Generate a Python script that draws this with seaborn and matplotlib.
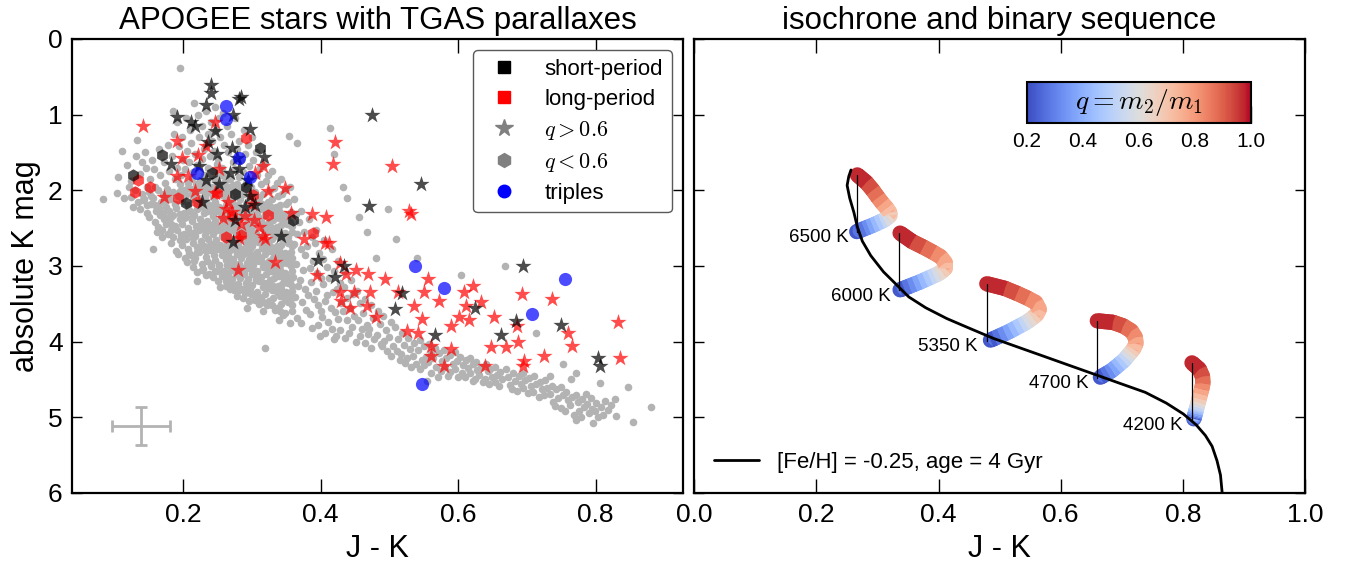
import numpy as np
import matplotlib
matplotlib.use("Agg")
import matplotlib.pyplot as plt
import seaborn as sns
from matplotlib.collections import LineCollection
from matplotlib.lines import Line2D

# ---------------- left panel data (J-K, M_K) ----------------
GREY = [
(0.084,2.11),(0.106,1.83),(0.104,2.03),(0.112,1.48),(0.114,2.10),(0.118,1.67),(0.121,1.95),(0.125,2.09),(0.127,2.22),(0.124,1.88),(0.131,1.55),(0.133,1.33),(0.130,2.00),(0.134,2.15),
(0.138,1.78),(0.140,2.05),(0.137,2.25),(0.141,1.62),(0.145,1.50),(0.147,1.95),(0.144,2.12),(0.148,2.30),(0.146,1.70),
(0.152,1.85),(0.150,2.02),(0.154,2.18),(0.151,2.35),(0.155,1.60),(0.157,2.77),
(0.158,1.72),(0.160,1.95),(0.157,2.10),(0.161,2.28),(0.159,2.42),(0.162,2.55),
(0.165,1.45),(0.167,1.80),(0.164,2.00),(0.168,2.15),(0.166,2.32),(0.163,2.48),(0.169,2.62),
(0.172,1.62),(0.174,1.90),(0.171,2.05),(0.175,2.22),(0.173,2.38),(0.170,2.52),(0.176,2.45),
(0.178,1.40),(0.180,1.75),(0.177,1.98),(0.181,2.12),(0.179,2.28),(0.182,2.44),(0.178,2.58),(0.183,2.70),
(0.185,0.95),(0.187,1.25),(0.184,1.55),(0.188,1.85),(0.186,2.02),(0.189,2.18),(0.185,2.32),(0.188,2.47),(0.186,2.62),(0.190,2.80),
(0.192,1.10),(0.194,1.42),(0.191,1.70),(0.195,1.92),(0.193,2.08),(0.190,2.24),(0.196,2.38),(0.192,2.52),(0.195,2.66),(0.193,2.84),
(0.196,0.39),
(0.198,1.30),(0.200,1.60),(0.197,1.80),(0.201,2.00),(0.199,2.14),(0.202,2.30),(0.198,2.44),(0.201,2.58),(0.199,2.72),(0.203,2.90),
(0.204,1.05),(0.206,1.48),(0.203,1.72),(0.207,1.90),(0.205,2.06),(0.208,2.20),(0.204,2.35),(0.207,2.50),(0.205,2.64),(0.208,2.78),(0.206,2.95),
(0.210,1.20),(0.212,1.38),(0.209,1.62),(0.213,1.84),(0.211,1.98),(0.214,2.12),(0.210,2.27),(0.213,2.41),(0.211,2.56),(0.214,2.70),(0.212,2.86),(0.215,3.02),
(0.216,0.85),(0.218,1.52),(0.215,1.76),(0.219,1.92),(0.217,2.04),(0.220,2.18),(0.216,2.32),(0.219,2.47),(0.217,2.61),(0.220,2.75),(0.218,2.90),(0.221,3.08),
(0.222,1.00),(0.224,1.30),(0.221,1.66),(0.225,1.86),(0.223,2.00),(0.226,2.10),(0.222,2.24),(0.225,2.38),(0.223,2.53),(0.226,2.67),(0.224,2.82),(0.227,2.97),(0.220,3.20),
(0.228,1.15),(0.230,1.45),(0.227,1.58),(0.231,1.80),(0.229,1.95),(0.232,2.08),(0.228,2.20),(0.231,2.30),(0.229,2.44),(0.232,2.59),(0.230,2.73),(0.233,2.88),(0.229,3.04),
(0.234,0.95),(0.236,1.25),(0.233,1.40),(0.237,1.70),(0.235,1.88),(0.238,2.02),(0.234,2.14),(0.237,2.27),(0.235,2.40),(0.238,2.52),(0.236,2.65),(0.239,2.79),(0.235,2.93),(0.238,3.10),
(0.240,1.10),(0.242,1.35),(0.239,1.55),(0.243,1.75),(0.241,1.95),(0.244,2.09),(0.240,2.21),(0.243,2.34),(0.241,2.46),(0.244,2.58),(0.242,2.71),(0.245,2.85),(0.241,3.00),(0.244,3.15),
(0.246,0.90),(0.248,1.20),(0.245,1.48),(0.249,1.65),(0.247,1.85),(0.250,2.00),(0.246,2.16),(0.249,2.28),(0.247,2.40),(0.250,2.53),(0.248,2.66),(0.251,2.78),(0.247,2.92),(0.250,3.07),
(0.252,1.05),(0.254,1.30),(0.251,1.58),(0.255,1.80),(0.253,1.93),(0.256,2.06),(0.252,2.22),(0.255,2.35),(0.253,2.47),(0.256,2.60),(0.254,2.72),(0.257,2.86),(0.253,2.99),(0.256,3.13),(0.254,3.28),
(0.258,0.98),(0.260,1.40),(0.257,1.70),(0.261,1.88),(0.259,2.02),(0.262,2.12),(0.258,2.28),(0.261,2.42),(0.259,2.54),(0.262,2.66),(0.260,2.79),(0.263,2.92),(0.259,3.06),(0.262,3.20),
(0.264,1.15),(0.266,1.50),(0.263,1.78),(0.267,1.96),(0.265,2.08),(0.268,2.18),(0.264,2.34),(0.267,2.47),(0.265,2.60),(0.268,2.72),(0.266,2.85),(0.269,2.98),(0.265,3.12),(0.268,3.25),
(0.270,1.25),(0.272,1.62),(0.269,1.85),(0.273,2.00),(0.271,2.14),(0.274,2.25),(0.270,2.40),(0.273,2.53),(0.271,2.66),(0.274,2.78),(0.272,2.91),(0.275,3.04),(0.271,3.17),(0.274,3.32),
(0.276,1.05),(0.278,1.45),(0.275,1.72),(0.279,1.92),(0.277,2.06),(0.280,2.20),(0.276,2.32),(0.279,2.46),(0.277,2.58),(0.280,2.71),(0.278,2.84),(0.281,2.97),(0.277,3.10),(0.280,3.24),(0.278,3.40),
(0.282,1.35),(0.284,1.60),(0.281,1.82),(0.285,1.98),(0.283,2.12),(0.286,2.26),(0.282,2.38),(0.285,2.52),(0.283,2.64),(0.286,2.77),(0.284,2.90),(0.287,3.03),(0.283,3.16),(0.286,3.30),
(0.288,1.20),(0.290,1.52),(0.287,1.76),(0.291,1.90),(0.289,2.05),(0.292,2.18),(0.288,2.32),(0.291,2.45),(0.289,2.58),(0.292,2.70),(0.290,2.83),(0.293,2.96),(0.289,3.09),(0.292,3.22),(0.290,3.36),(0.293,3.55),
(0.294,1.40),(0.296,1.68),(0.293,1.85),(0.297,2.00),(0.295,2.14),(0.298,2.28),(0.294,2.40),(0.297,2.53),(0.295,2.66),(0.298,2.78),(0.296,2.91),(0.299,3.04),(0.295,3.17),(0.298,3.31),(0.296,3.46),
(0.300,1.30),(0.302,1.60),(0.299,1.95),(0.303,2.08),(0.301,2.22),(0.304,2.35),(0.300,2.48),(0.303,2.60),(0.301,2.73),(0.304,2.86),(0.302,2.99),(0.305,3.12),(0.301,3.25),(0.304,3.40),
(0.306,1.50),(0.308,1.80),(0.305,2.02),(0.309,2.16),(0.307,2.30),(0.310,2.43),(0.306,2.56),(0.309,2.68),(0.307,2.81),(0.310,2.94),(0.308,3.07),(0.311,3.20),(0.307,3.34),(0.310,3.50),
(0.312,1.70),(0.314,1.92),(0.311,2.10),(0.315,2.25),(0.313,2.38),(0.316,2.51),(0.312,2.64),(0.315,2.76),(0.313,2.89),(0.316,3.02),(0.314,3.15),(0.317,3.28),(0.313,3.42),(0.316,3.60),
(0.318,1.65),(0.320,1.88),(0.317,2.05),(0.321,2.20),(0.319,2.33),(0.322,2.46),(0.318,2.59),(0.321,2.72),(0.319,2.84),(0.322,2.97),(0.320,3.10),(0.323,3.23),(0.319,3.37),(0.322,3.52),(0.319,4.08),
(0.324,1.80),(0.326,2.00),(0.323,2.15),(0.327,2.29),(0.325,2.42),(0.328,2.55),(0.324,2.68),(0.327,2.80),(0.325,2.93),(0.328,3.06),(0.326,3.19),(0.329,3.32),(0.325,3.46),
(0.330,1.75),(0.332,1.97),(0.329,2.12),(0.333,2.26),(0.331,2.39),(0.334,2.52),(0.330,2.64),(0.333,2.77),(0.331,2.90),(0.334,3.03),(0.332,3.16),(0.335,3.29),(0.331,3.42),(0.334,3.58),
(0.336,1.90),(0.338,2.08),(0.335,2.22),(0.339,2.36),(0.337,2.49),(0.340,2.62),(0.336,2.74),(0.339,2.87),(0.337,3.00),(0.340,3.13),(0.338,3.26),(0.341,3.40),(0.337,3.55),(0.340,3.72),
(0.342,1.85),(0.344,2.05),(0.341,2.20),(0.345,2.33),(0.343,2.46),(0.346,2.59),(0.342,2.72),(0.345,2.85),(0.343,2.98),(0.346,3.11),(0.344,3.24),(0.347,3.37),(0.343,3.50),(0.346,3.65),
(0.348,2.00),(0.350,2.18),(0.347,2.31),(0.351,2.44),(0.349,2.57),(0.352,2.70),(0.348,2.83),(0.351,2.96),(0.349,3.09),(0.352,3.22),(0.350,3.35),(0.353,3.48),(0.349,3.62),
(0.354,1.28),(0.356,1.95),(0.353,2.15),(0.357,2.29),(0.355,2.42),(0.358,2.55),(0.354,2.68),(0.357,2.81),(0.355,2.94),(0.358,3.07),(0.356,3.20),(0.359,3.33),(0.355,3.46),(0.358,3.60),(0.356,3.76),
(0.361,2.12),(0.364,2.31),(0.359,2.47),(0.366,2.58),(0.362,2.71),(0.358,2.90),(0.365,2.97),(0.360,3.14),(0.367,3.26),(0.363,3.41),(0.359,3.52),(0.366,3.69),
(0.366,1.38),(0.372,2.27),(0.369,2.42),(0.376,2.55),(0.371,2.77),(0.378,2.86),(0.374,3.05),(0.370,3.19),(0.377,3.30),(0.373,3.47),(0.379,3.58),(0.372,3.75),
(0.383,2.38),(0.387,2.62),(0.381,2.74),(0.389,2.93),(0.384,3.03),(0.386,3.21),(0.382,3.39),(0.390,3.44),(0.385,3.63),(0.388,3.82),
(0.394,2.52),(0.392,2.69),(0.398,2.83),(0.395,3.09),(0.400,3.16),(0.393,3.33),(0.397,3.51),(0.401,3.60),(0.396,3.78),(0.399,3.93),
(0.405,2.66),(0.403,2.91),(0.409,3.02),(0.404,3.24),(0.410,3.38),(0.406,3.46),(0.402,3.68),(0.411,3.74),(0.407,3.89),
(0.414,1.17),(0.416,2.78),(0.419,3.07),(0.413,3.16),(0.418,3.35),(0.415,3.55),(0.421,3.61),(0.417,3.83),(0.420,3.97),
(0.420,1.52),(0.425,2.93),(0.428,3.22),(0.424,3.30),(0.430,3.49),(0.426,3.70),(0.429,3.84),(0.423,3.92),
(0.432,1.95),(0.436,3.06),(0.434,3.28),(0.439,3.42),(0.433,3.60),(0.438,3.71),(0.435,3.95),(0.441,3.88),
(0.438,2.10),(0.444,3.18),(0.447,3.37),(0.443,3.55),(0.449,3.66),(0.446,3.80),(0.451,4.00),
(0.456,2.35),(0.453,3.33),(0.458,3.49),(0.455,3.72),(0.460,3.83),(0.457,3.93),
(0.464,3.44),(0.462,3.62),(0.467,3.78),(0.465,4.02),(0.469,3.90),
(0.468,2.55),(0.473,3.52),(0.476,3.69),(0.471,3.83),(0.478,3.97),(0.474,4.08),
(0.480,2.90),(0.483,3.59),(0.486,3.77),(0.482,3.91),(0.488,4.03),
(0.491,3.66),(0.495,3.84),(0.493,3.99),(0.497,4.13),(0.490,4.06),
(0.498,2.25),(0.502,3.74),(0.500,3.94),(0.505,4.06),(0.503,4.19),
(0.510,2.65),(0.509,3.81),(0.513,3.97),(0.511,4.12),(0.515,4.24),
(0.518,3.88),(0.521,4.05),(0.517,4.16),(0.523,4.28),
(0.527,3.95),(0.530,4.10),(0.526,4.22),(0.532,4.33),
(0.536,4.02),(0.534,4.19),(0.539,4.29),
(0.540,2.90),(0.544,3.98),(0.542,4.11),(0.547,4.24),(0.545,4.36),
(0.550,4.06),(0.553,4.20),(0.551,4.31),
(0.555,4.52),(0.558,4.03),(0.561,4.14),(0.557,4.27),(0.560,4.41),
(0.566,4.09),(0.564,4.22),(0.568,4.33),(0.571,4.47),
(0.573,4.15),(0.577,4.26),(0.575,4.39),
(0.580,4.11),(0.583,4.21),(0.581,4.34),(0.585,4.45),
(0.589,4.18),(0.592,4.29),(0.588,4.40),
(0.596,4.14),(0.598,4.25),(0.595,4.36),(0.600,4.47),
(0.604,3.12),(0.603,4.20),(0.607,4.31),(0.605,4.42),
(0.611,4.24),(0.614,4.35),(0.610,4.47),
(0.618,4.21),(0.621,4.30),(0.617,4.41),(0.622,4.52),
(0.626,4.27),(0.628,4.38),(0.625,4.49),
(0.633,4.33),(0.631,4.44),(0.636,4.53),
(0.640,4.29),(0.643,4.39),(0.639,4.50),
(0.647,4.36),(0.650,4.47),(0.645,4.56),
(0.654,4.34),(0.657,4.44),(0.653,4.53),
(0.661,4.40),(0.664,4.50),(0.660,4.58),
(0.668,3.00),(0.670,4.36),(0.673,4.47),(0.676,4.57),
(0.680,4.42),(0.683,4.52),(0.679,4.63),
(0.688,4.45),(0.691,4.56),(0.686,4.65),
(0.695,4.41),(0.698,4.51),(0.694,4.61),
(0.703,4.48),(0.706,4.58),(0.701,4.68),
(0.711,4.46),(0.714,4.56),(0.709,4.66),(0.714,3.89),
(0.719,4.53),(0.722,4.63),(0.717,4.73),
(0.727,4.51),(0.730,4.61),(0.725,4.71),
(0.734,4.45),(0.737,4.58),(0.733,4.69),(0.738,4.80),
(0.742,4.63),(0.745,4.74),(0.741,4.85),
(0.749,4.60),(0.752,4.70),(0.753,4.29),(0.750,4.88),
(0.757,4.66),(0.760,4.77),(0.756,4.92),
(0.764,4.50),(0.766,4.73),(0.763,4.84),(0.768,4.97),
(0.772,4.42),(0.771,4.70),(0.774,4.80),(0.772,5.03),(0.776,4.91),
(0.780,4.76),(0.783,4.87),(0.779,4.99),
(0.787,4.82),(0.790,4.94),(0.786,4.69),
(0.793,4.75),(0.796,5.08),(0.795,4.89),
(0.800,4.81),(0.803,5.00),(0.799,4.92),
(0.806,4.55),(0.808,4.86),(0.811,4.97),
(0.813,4.78),(0.818,4.90),
(0.822,4.84),(0.828,4.76),(0.830,4.98),
(0.847,4.60),(0.854,5.06),(0.881,4.86),
]
# extra field stars filling the dense core of the main sequence
GREY_CORE = [
(0.195,2.01),(0.196,2.31),(0.197,2.59),(0.201,2.07),(0.202,2.37),(0.203,2.65),
(0.207,1.97),(0.208,2.27),(0.209,2.57),(0.209,2.83),(0.213,2.05),(0.214,2.34),(0.215,2.63),(0.216,2.93),
(0.219,1.99),(0.220,2.25),(0.219,2.54),(0.221,2.82),(0.225,1.93),(0.226,2.17),(0.225,2.46),(0.227,2.74),(0.228,3.05),
(0.231,2.01),(0.232,2.25),(0.231,2.51),(0.233,2.80),(0.234,3.12),(0.237,1.95),(0.238,2.20),(0.237,2.46),(0.239,2.72),(0.240,2.98),
(0.243,2.02),(0.244,2.27),(0.243,2.52),(0.245,2.78),(0.246,3.07),(0.249,1.93),(0.250,2.22),(0.249,2.47),(0.251,2.72),(0.252,2.99),(0.251,3.20),
(0.255,1.99),(0.256,2.28),(0.255,2.53),(0.257,2.79),(0.258,3.06),(0.261,1.95),(0.262,2.20),(0.261,2.48),(0.263,2.73),(0.264,2.99),(0.263,3.27),
(0.267,2.02),(0.268,2.27),(0.267,2.54),(0.269,2.79),(0.270,3.05),(0.269,3.31),(0.273,1.93),(0.274,2.19),(0.273,2.47),(0.275,2.72),(0.276,2.98),(0.275,3.25),
(0.279,1.99),(0.280,2.26),(0.279,2.52),(0.281,2.78),(0.282,3.04),(0.281,3.32),(0.285,2.05),(0.286,2.32),(0.285,2.58),(0.287,2.84),(0.288,3.10),(0.287,3.42),
(0.291,1.98),(0.292,2.25),(0.291,2.52),(0.293,2.77),(0.294,3.03),(0.293,3.29),(0.297,2.07),(0.298,2.34),(0.297,2.60),(0.299,2.85),(0.300,3.11),(0.299,3.37),
(0.303,2.15),(0.304,2.41),(0.303,2.67),(0.305,2.93),(0.306,3.18),(0.305,3.45),(0.309,2.09),(0.310,2.37),(0.309,2.62),(0.311,2.88),(0.312,3.14),(0.311,3.41),
(0.315,2.18),(0.316,2.44),(0.315,2.70),(0.317,2.96),(0.318,3.22),(0.317,3.48),(0.321,2.27),(0.322,2.53),(0.321,2.78),(0.323,3.04),(0.324,3.29),
(0.327,2.21),(0.328,2.48),(0.327,2.73),(0.329,2.99),(0.330,3.25),(0.329,3.52),(0.333,2.32),(0.334,2.58),(0.333,2.83),(0.335,3.09),(0.336,3.35),
(0.339,2.27),(0.340,2.53),(0.339,2.79),(0.341,3.05),(0.342,3.31),(0.341,3.59),(0.345,2.39),(0.346,2.66),(0.345,2.91),(0.347,3.17),(0.348,3.43),
(0.351,2.37),(0.352,2.62),(0.351,2.88),(0.353,3.15),(0.354,3.41),(0.357,2.47),(0.358,2.74),(0.357,3.00),(0.359,3.27),
(0.180,2.05),(0.182,2.35),(0.183,2.53),(0.176,2.13),(0.177,2.36),(0.171,2.30),(0.165,2.24),(0.160,2.19),(0.154,2.08),(0.148,2.20),(0.142,2.13),
]

# short-period (black), q > 0.6 (stars)
SP_STAR = [
(0.241,0.613),(0.240,0.713),(0.233,0.866),(0.281,0.794),(0.285,0.770),(0.191,1.037),(0.211,1.103),(0.217,1.151),
(0.247,1.222),(0.273,0.999),(0.297,1.189),(0.475,0.999),(0.546,1.921),(0.471,2.206),(0.250,1.522),(0.318,1.564),
(0.182,1.650),(0.224,1.674),(0.271,1.436),(0.278,1.579),(0.281,1.721),(0.294,1.864),(0.269,1.769),(0.233,1.864),
(0.227,2.149),(0.297,2.078),(0.290,2.221),(0.304,2.197),(0.275,2.387),(0.342,2.601),(0.273,2.682),(0.397,2.920),
(0.434,3.005),(0.421,3.148),(0.509,3.566),(0.518,3.362),(0.625,3.557),(0.566,3.909),(0.663,3.909),(0.684,3.733),
(0.695,3.005),(0.749,3.776),(0.803,4.218),(0.806,4.327),(0.236,1.365),(0.252,1.912),
]
# short-period, q < 0.6 (hexagons)
SP_HEX = [
(0.170,1.533),(0.128,1.797),(0.312,1.445),(0.276,2.048),(0.205,2.171),(0.360,2.392),(0.242,1.775),(0.292,1.952),
]
# long-period (red), q > 0.6 (stars)
LP_STAR = [
(0.142,1.151),(0.192,1.350),(0.246,1.103),(0.198,1.579),(0.222,1.531),(0.234,1.412),(0.252,1.721),(0.192,1.816),
(0.208,1.816),(0.173,2.092),(0.217,2.007),(0.246,2.030),(0.265,2.149),(0.271,2.292),(0.290,2.340),(0.303,2.387),
(0.281,2.625),(0.316,2.601),(0.319,2.649),(0.280,3.053),(0.334,2.943),(0.317,1.683),(0.305,1.769),(0.324,2.007),
(0.348,1.969),(0.357,2.301),(0.387,2.316),(0.408,2.354),(0.376,2.649),(0.406,2.701),(0.413,2.701),(0.421,1.355),
(0.418,1.650),(0.504,1.683),(0.529,2.268),(0.532,2.316),(0.395,3.124),(0.429,2.958),(0.437,3.100),(0.451,3.053),
(0.469,3.100),(0.494,3.172),(0.429,3.338),(0.449,3.338),(0.472,3.338),(0.430,3.457),(0.443,3.552),(0.467,3.528),
(0.481,3.671),(0.513,3.338),(0.536,3.528),(0.550,3.338),(0.557,3.172),(0.573,3.457),(0.608,3.338),(0.622,3.267),
(0.611,3.528),(0.633,3.481),(0.590,3.790),(0.602,3.671),(0.616,3.719),(0.526,3.861),(0.542,3.885),(0.548,3.695),
(0.560,4.051),(0.560,4.194),(0.590,4.099),(0.579,4.327),(0.639,4.327),(0.648,4.075),(0.652,3.671),(0.669,4.075),
(0.686,3.790),(0.687,4.004),(0.693,3.376),(0.696,4.251),(0.725,4.194),(0.737,3.433),(0.760,3.885),(0.765,4.051),
(0.832,3.742),(0.836,4.218),(0.695,4.327),(0.262,2.250),(0.285,2.450),(0.300,2.180),(0.258,2.370),(0.310,2.480),
]
# long-period, q < 0.6 (hexagons)
LP_HEX = [
(0.291,1.313),(0.134,1.863),(0.130,2.018),(0.152,1.952),(0.193,2.105),(0.220,2.150),(0.262,2.612),(0.285,2.590),
(0.324,2.326),(0.389,2.560),(0.302,2.062),(0.249,2.039),(0.271,2.340),
]
# triples (blue circles)
TRIPLE = [
(0.263,0.889),(0.263,1.056),(0.281,1.579),(0.220,1.769),(0.297,1.826),(0.537,3.005),(0.580,3.291),(0.755,3.172),
(0.707,3.633),(0.548,4.565),
]
# typical uncertainty (centre and half-widths)
ERR_CENTER = (0.139, 5.11)
ERR_JK, ERR_MK = 0.042, 0.25

# ---------------- right panel data ----------------
ISO_JK = [0.8645, 0.8617, 0.856, 0.848, 0.837, 0.8216, 0.8008, 0.773, 0.7386, 0.697, 0.6556, 0.614, 0.5726,
          0.531, 0.4896, 0.448, 0.4136, 0.379, 0.3513, 0.3306, 0.3098, 0.289, 0.2752, 0.267, 0.2614, 0.2545,
          0.2503, 0.253, 0.2566]
ISO_MK = [6.00, 5.763, 5.573, 5.383, 5.24, 5.097, 4.955, 4.812, 4.670, 4.551, 4.432, 4.313, 4.194,
          4.075, 3.956, 3.814, 3.695, 3.552, 3.409, 3.243, 3.077, 2.863, 2.672, 2.482, 2.292, 2.102,
          1.935, 1.816, 1.731]
ISO_LABEL = "[Fe/H] = -0.25, age = 4 Gyr"

TEFF = [6500, 6000, 5350, 4700, 4200]
PRIM_JK = [0.267, 0.336, 0.479, 0.660, 0.815]
PRIM_MK = [2.55, 3.32, 3.985, 4.475, 5.03]

Q = [0.20, 0.25, 0.30, 0.35, 0.40, 0.45, 0.50, 0.55, 0.60, 0.65, 0.70, 0.75, 0.80, 0.85, 0.90, 0.95, 1.00]
SEQ_6500_JK = [0.266, 0.2715, 0.2785, 0.2852, 0.2923, 0.299, 0.306, 0.3112, 0.316, 0.3204, 0.320, 0.315, 0.308, 0.3008, 0.2922, 0.2816, 0.267]
SEQ_6500_MK = [2.546, 2.529, 2.506, 2.485, 2.462, 2.437, 2.411, 2.392, 2.363, 2.332, 2.292, 2.233, 2.169, 2.094, 1.997, 1.895, 1.796]
SEQ_6000_JK = [0.337, 0.3439, 0.3525, 0.3609, 0.3694, 0.3778, 0.386, 0.3928, 0.3996, 0.4056, 0.411, 0.4111, 0.4036, 0.391, 0.3748, 0.3566, 0.337]
SEQ_6000_MK = [3.315, 3.293, 3.266, 3.239, 3.212, 3.182, 3.152, 3.128, 3.103, 3.070, 3.031, 2.957, 2.879, 2.819, 2.749, 2.676, 2.565]
SEQ_5350_JK = [0.485, 0.4919, 0.5009, 0.5096, 0.5183, 0.5267, 0.5351, 0.5418, 0.5484, 0.5545, 0.5605, 0.565, 0.5593, 0.5457, 0.5283, 0.5086, 0.479]
SEQ_5350_MK = [3.980, 3.955, 3.922, 3.890, 3.856, 3.819, 3.783, 3.754, 3.720, 3.682, 3.644, 3.573, 3.484, 3.425, 3.361, 3.296, 3.235]
SEQ_4700_JK = [0.665, 0.6705, 0.6775, 0.6844, 0.6906, 0.6968, 0.7028, 0.7072, 0.7112, 0.7154, 0.7194, 0.7233, 0.7223, 0.7158, 0.7023, 0.6855, 0.660]
SEQ_4700_MK = [4.470, 4.444, 4.411, 4.377, 4.335, 4.294, 4.253, 4.214, 4.175, 4.135, 4.096, 4.025, 3.943, 3.859, 3.792, 3.745, 3.725]
SEQ_4200_JK = [0.818, 0.8185, 0.8191, 0.8196, 0.8204, 0.8212, 0.8219, 0.823, 0.824, 0.8254, 0.8269, 0.8289, 0.8309, 0.8329, 0.8322, 0.827, 0.815]
SEQ_4200_MK = [5.020, 5.004, 4.988, 4.973, 4.949, 4.925, 4.902, 4.869, 4.839, 4.799, 4.752, 4.691, 4.627, 4.549, 4.459, 4.364, 4.280]
SEQS = [(SEQ_6500_JK, SEQ_6500_MK), (SEQ_6000_JK, SEQ_6000_MK), (SEQ_5350_JK, SEQ_5350_MK),
        (SEQ_4700_JK, SEQ_4700_MK), (SEQ_4200_JK, SEQ_4200_MK)]
CB_TICKS = [0.2, 0.4, 0.6, 0.8, 1.0]

# ---------------- style ----------------
sns.set_theme(style="white")
plt.rcParams.update({
    "font.family": ["Liberation Sans", "DejaVu Sans"],
    "mathtext.fontset": "cm",
    "text.color": "black",
    "axes.labelcolor": "black",
    "axes.edgecolor": "black",
    "axes.linewidth": 1.6,
    "xtick.color": "black", "ytick.color": "black",
    "xtick.direction": "in", "ytick.direction": "in",
    "xtick.top": True, "ytick.right": True,
    "xtick.bottom": True, "ytick.left": True,
    "xtick.major.size": 10, "ytick.major.size": 7,
    "xtick.major.width": 1, "ytick.major.width": 1,
    "xtick.major.pad": 7, "ytick.major.pad": 7,
    "xtick.labelsize": 19, "ytick.labelsize": 19,
    "axes.labelsize": 22, "axes.titlesize": 22.5,
})

fig = plt.figure(figsize=(13.51, 5.64), dpi=100)
ax1 = fig.add_axes([0.0535, 0.1259, 0.452, 0.805])
ax2 = fig.add_axes([0.5139, 0.1259, 0.452, 0.805])

def xy(pts):
    a = np.array(pts)
    return a[:, 0], a[:, 1]

# ---- left panel ----
gx, gy = xy(GREY + GREY_CORE)
sns.scatterplot(x=gx, y=gy, color="#b3b3b3", s=30, linewidth=0, ax=ax1, zorder=1, legend=False)
for pts, col, mk, size in [(LP_STAR, "red", "*", 150), (LP_HEX, "red", "h", 80),
                           (SP_STAR, "black", "*", 150), (SP_HEX, "black", "h", 80),
                           (TRIPLE, "blue", "o", 90)]:
    x, y = xy(pts)
    sns.scatterplot(x=x, y=y, color=col, marker=mk, s=size, alpha=0.7, linewidth=0,
                    ax=ax1, zorder=3, legend=False)
ax1.errorbar([ERR_CENTER[0]], [ERR_CENTER[1]], xerr=[ERR_JK], yerr=[ERR_MK], color="#b3b3b3",
             lw=2, capsize=4, capthick=2, zorder=2)

ax1.set_xlim(0.039, 0.927)
ax1.set_ylim(6, 0)
ax1.set_xticks([0.2, 0.4, 0.6, 0.8])
ax1.set_yticks(range(7))
ax1.set_xlabel("J - K", labelpad=5)
ax1.set_ylabel("absolute K mag", labelpad=5)
ax1.set_title("APOGEE stars with TGAS parallaxes", pad=7)

handles = [
    Line2D([], [], marker="s", color="black", ls="", ms=9),
    Line2D([], [], marker="s", color="red", ls="", ms=9),
    Line2D([], [], marker="*", color="gray", ls="", ms=13),
    Line2D([], [], marker="h", color="gray", ls="", ms=10),
    Line2D([], [], marker="o", color="blue", ls="", ms=9),
]
labels = ["short-period", "long-period", r"$q > 0.6$", r"$q < 0.6$", "triples"]
leg = ax1.legend(handles, labels, loc="upper right", fontsize=16, numpoints=1, frameon=True,
                 fancybox=True, framealpha=1, labelspacing=0.4, handlelength=2, handletextpad=0.8,
                 borderpad=0.4, borderaxespad=0.5)
leg.get_frame().set_edgecolor("0.35")
leg.get_frame().set_linewidth(1.0)

# ---- right panel ----
norm = plt.Normalize(0.2, 1.0)
cmap = plt.get_cmap("coolwarm")
qarr = np.array(Q)
qmid = (qarr[:-1] + qarr[1:]) / 2
for jk, mk in SEQS:
    pts = np.column_stack([jk, mk])
    segs = np.stack([pts[:-1], pts[1:]], axis=1)
    # round-capped underlay fills the joints, butt-capped overlay gives clean colour steps
    for cap, z in (("round", 2), ("butt", 2.5)):
        lc = LineCollection(segs, cmap=cmap, norm=norm, linewidths=11, zorder=z)
        lc.set_capstyle(cap)
        lc.set_array(qmid)
        ax2.add_collection(lc)

sns.lineplot(x=ISO_JK, y=ISO_MK, sort=False, estimator=None, color="black", lw=2,
             label=ISO_LABEL, ax=ax2, zorder=5)
for (jk, mk), px, py in zip(SEQS, PRIM_JK, PRIM_MK):
    ax2.plot([px, px], [py, mk[-1]], color="black", lw=0.9, zorder=4)
for t, px, py in zip(TEFF, PRIM_JK, PRIM_MK):
    ax2.annotate(f"{t} K", xy=(px, py), xytext=(-9, -6), textcoords="offset pixels",
                 ha="right", va="center", fontsize=13.5, zorder=6)

ax2.set_xlim(0, 1)
ax2.set_ylim(6, 0)
ax2.set_xticks([0.0, 0.2, 0.4, 0.6, 0.8, 1.0])
ax2.set_yticks(range(7))
ax2.tick_params(labelleft=False)
ax2.set_xlabel("J - K", labelpad=5)
ax2.set_ylabel("")
ax2.set_title("isochrone and binary sequence", pad=7)
ax2.legend(loc="lower left", fontsize=16, frameon=False, handlelength=2, handletextpad=0.8,
           borderpad=0.4, borderaxespad=0.5)

cax = fig.add_axes([0.760, 0.7814, 0.1658, 0.0738])
sm = plt.cm.ScalarMappable(norm=norm, cmap=cmap)
cb = fig.colorbar(sm, cax=cax, orientation="horizontal", ticks=CB_TICKS)
cb.outline.set_linewidth(1.5)
cax.tick_params(axis="x", direction="in", length=12, width=1, labelsize=15, colors="black",
                top=False, bottom=True, pad=6)
cax.text(0.5, 0.5, r"$q = m_2/m_1$", transform=cax.transAxes, ha="center", va="center", fontsize=20)

fig.savefig("out.png", dpi=100)
